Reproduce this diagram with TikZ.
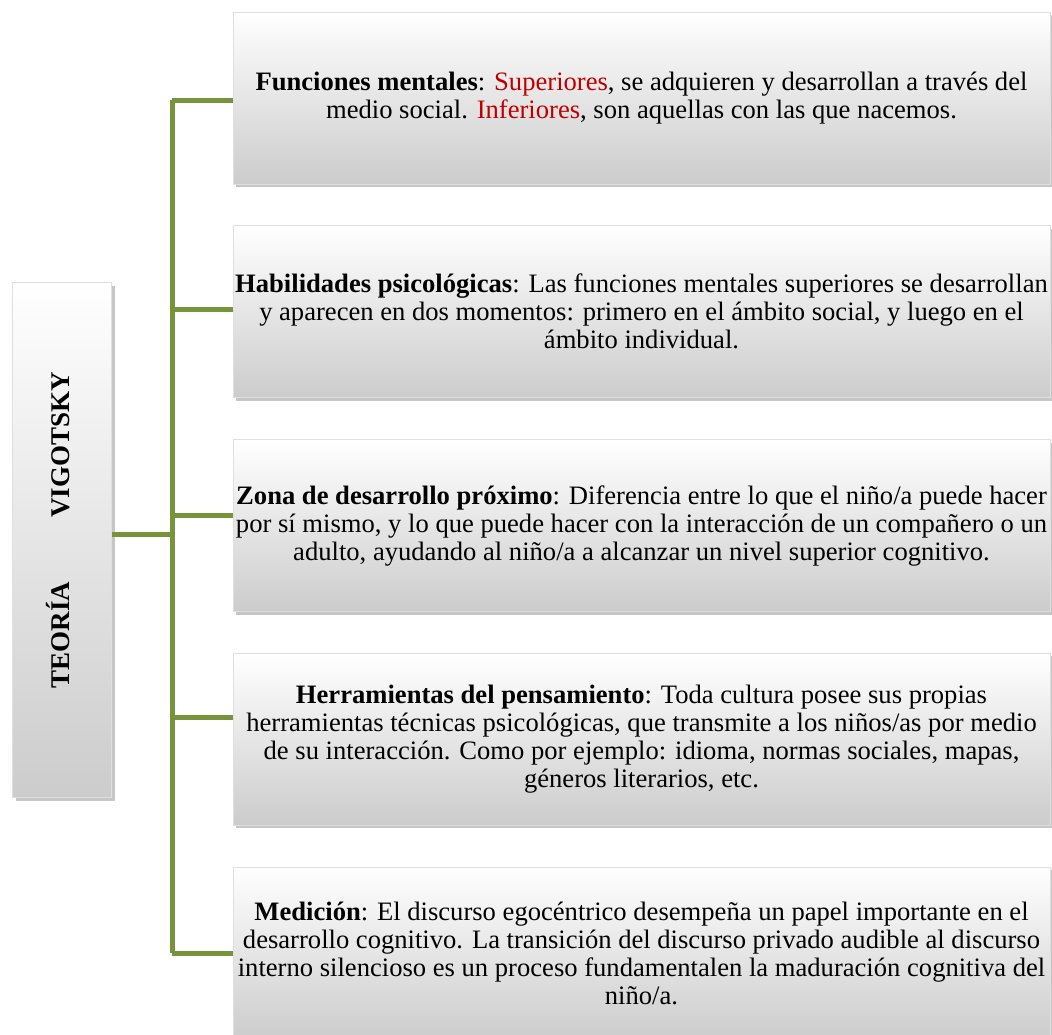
\documentclass[tikz,border=0pt]{standalone}
\usepackage{fontspec}
\setmainfont{Liberation Serif}
\usepackage{tikz}
\usetikzlibrary{positioning, shadows}
\definecolor{dolive}{HTML}{77933C}
\definecolor{dred}{HTML}{C00000}
\begin{document}
\begin{tikzpicture}[
    x=0.5pt, y=-0.5pt,
    block/.style={rectangle, draw=gray!25, top color=white, bottom color=gray!40, minimum height=86pt, minimum width=408.5pt, inner sep=0pt, align=center, font=\fontsize{13.3}{14}\selectfont, drop shadow={shadow xshift=1.5pt, shadow yshift=-1.5pt, opacity=0.45}},
    title/.style={rectangle, draw=gray!25, top color=white, bottom color=gray!40, minimum height=257.5pt, minimum width=49.5pt, inner sep=0pt, drop shadow={shadow xshift=1.5pt, shadow yshift=-1.5pt, opacity=0.45}},
    link/.style={line width=2.5pt, dolive},
]
\useasboundingbox (0,0) rectangle (1052,1034);

% Blocks
\node[block] (fm) at (641.5,98) {\textbf{Funciones mentales}: \textcolor{dred}{Superiores}, se adquieren y desarrollan a través del\\medio social. \textcolor{dred}{Inferiores}, son aquellas con las que nacemos.};
\node[block, below=20.5pt of fm] (hp) {\textbf{Habilidades psicológicas}: Las funciones mentales superiores se desarrollan\\y aparecen en dos momentos: primero en el ámbito social, y luego en el\\ámbito individual.};
\node[block, below=20.5pt of hp] (zdp) {\textbf{Zona de desarrollo próximo}: Diferencia entre lo que el niño/a puede hacer\\por sí mismo, y lo que puede hacer con la interacción de un compañero o un\\adulto, ayudando al niño/a a alcanzar un nivel superior cognitivo.};
\node[block, below=20.5pt of zdp] (herr) {\textbf{Herramientas del pensamiento}: Toda cultura posee sus propias\\herramientas técnicas psicológicas, que transmite a los niños/as por medio\\de su interacción. Como por ejemplo: idioma, normas sociales, mapas,\\géneros literarios, etc.};
\node[block, below=20.5pt of herr] (med) {\textbf{Medición}: El discurso egocéntrico desempeña un papel importante en el\\desarrollo cognitivo. La transición del discurso privado audible al discurso\\interno silencioso es un proceso fundamentalen la maduración cognitiva del\\niño/a.};

% Title box
\node[title] (teoria) at (62,540) {};
\node[rotate=90, font=\fontsize{13.5}{15}\selectfont\bfseries] at ([xshift=-2pt, yshift=5pt]teoria.center) {TEORÍA\hspace{32pt}VIGOTSKY};

% Connectors
\coordinate (spine) at (172,534);
\draw[link] (teoria.east |- spine) -- (spine);
\draw[link] ([yshift=-1pt]spine |- fm.west) -- ([yshift=-1pt]fm.west);
\draw[link] ([yshift=-1pt]spine |- fm.west) -- (spine |- med.west);
\draw[link] ([yshift=1pt]spine |- hp.west) -- ([yshift=1pt]hp.west);
\draw[link] ([yshift=5pt]spine |- zdp.west) -- ([yshift=5pt]zdp.west);
\draw[link] ([yshift=11pt]spine |- herr.west) -- ([yshift=11pt]herr.west);
\draw[link] (spine |- med.west) -- (med.west);

\end{tikzpicture}
\end{document}
